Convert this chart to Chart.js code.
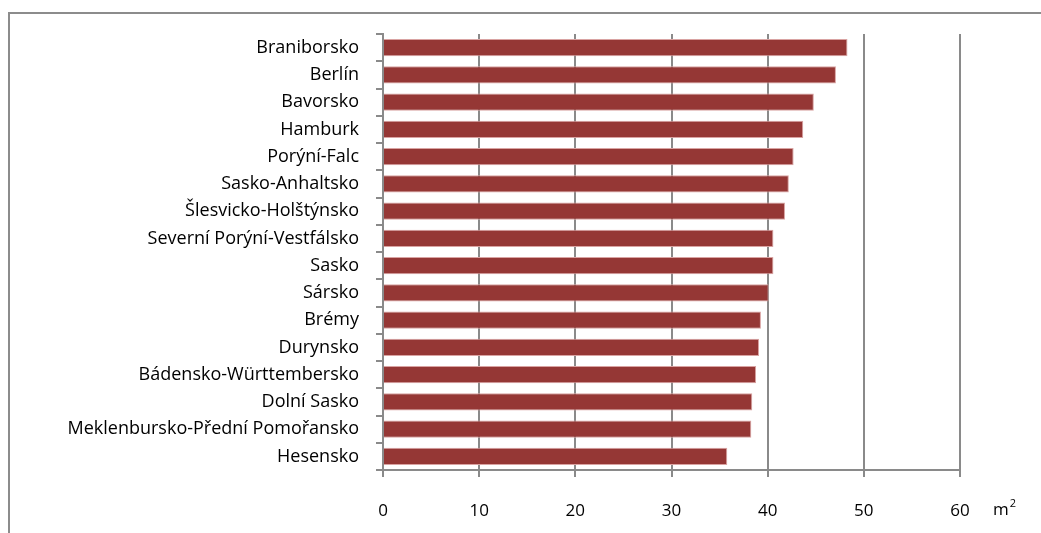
<!DOCTYPE html>
<html>
<head>
<meta charset="utf-8">
<script src="https://cdn.jsdelivr.net/npm/chart.js@4"></script>
<style>
  html, body { margin: 0; padding: 0; background: #fff; }
  #wrap { position: relative; width: 1041px; height: 533px; overflow: hidden; }
  #frame {
    position: absolute; left: 8px; top: 12px; width: 1100px; height: 600px;
    border-left: 2px solid #8c8c8c; border-top: 2px solid #8c8c8c;
  }
  canvas { position: absolute; left: 0; top: 0; }
</style>
</head>
<body>
<div id="wrap">
  <div id="frame"></div>
  <canvas id="chart" width="1041" height="533"></canvas>
</div>
<script>
const regions = [
  "Braniborsko",
  "Berlín",
  "Bavorsko",
  "Hamburk",
  "Porýní-Falc",
  "Sasko-Anhaltsko",
  "Šlesvicko-Holštýnsko",
  "Severní Porýní-Vestfálsko",
  "Sasko",
  "Sársko",
  "Brémy",
  "Durynsko",
  "Bádensko-Württembersko",
  "Dolní Sasko",
  "Meklenbursko-Přední Pomořansko",
  "Hesensko",
];
const areaPerPerson = [
  48.3, 47.1, 44.8, 43.7, 42.7, 42.2, 41.8, 40.6, 40.6, 40.1, 39.3, 39.1,
  38.8, 38.4, 38.3, 35.8,
];
const xTicks = [0, 10, 20, 30, 40, 50, 60];
const unitLabel = "m²";

const gridGray = "#8a8a8a";
const family = "'Open Sans', sans-serif";

// unit label to the right of the last x tick
const unitPlugin = {
  id: "unitLabel",
  afterDraw(chart) {
    const x = chart.scales.x;
    const ctx = chart.ctx;
    ctx.save();
    ctx.fillStyle = "#000";
    ctx.font = "17px " + family;
    ctx.textBaseline = "middle";
    ctx.textAlign = "left";
    const y = 510;
    ctx.fillText("m", x.right + 33, y);
    const w = ctx.measureText("m").width;
    ctx.font = "11px " + family;
    ctx.fillText("2", x.right + 33 + w + 1, y - 6);
    ctx.restore();
  },
};

const ctx = document.getElementById("chart");
new Chart(ctx, {
  type: "bar",
  data: {
    labels: regions,
    datasets: [
      {
        label: unitLabel,
        data: areaPerPerson,
        backgroundColor: "#953735",
        borderColor: "#d9a3a2",
        borderWidth: 1,
        categoryPercentage: 1,
        barPercentage: 0.64,
      },
    ],
  },
  plugins: [unitPlugin],
  options: {
    indexAxis: "y",
    responsive: false,
    animation: false,
    layout: { padding: { top: 34, right: 81, left: 0, bottom: 0 } },
    plugins: {
      legend: { display: false },
      tooltip: { enabled: false },
    },
    scales: {
      x: {
        min: 0,
        max: 60,
        afterBuildTicks: (axis) => {
          axis.ticks = xTicks.map((v) => ({ value: v }));
        },
        afterFit: (axis) => {
          axis.height = 63;
        },
        grid: {
          color: gridGray,
          lineWidth: 2,
          drawTicks: true,
          tickLength: 7,
          tickColor: gridGray,
        },
        border: { display: true, color: gridGray, width: 2 },
        ticks: {
          color: "#000",
          font: { family: family, size: 17 },
          padding: 24,
          maxRotation: 0,
        },
      },
      y: {
        afterFit: (axis) => {
          axis.width = 383;
        },
        grid: {
          offset: true,
          drawOnChartArea: false,
          drawTicks: true,
          tickLength: 7,
          color: gridGray,
          lineWidth: 2,
        },
        border: { display: true, color: gridGray, width: 2 },
        ticks: {
          color: "#000",
          font: { family: family, size: 18 },
          padding: 17,
          autoSkip: false,
        },
      },
    },
  },
});
</script>
</body>
</html>
